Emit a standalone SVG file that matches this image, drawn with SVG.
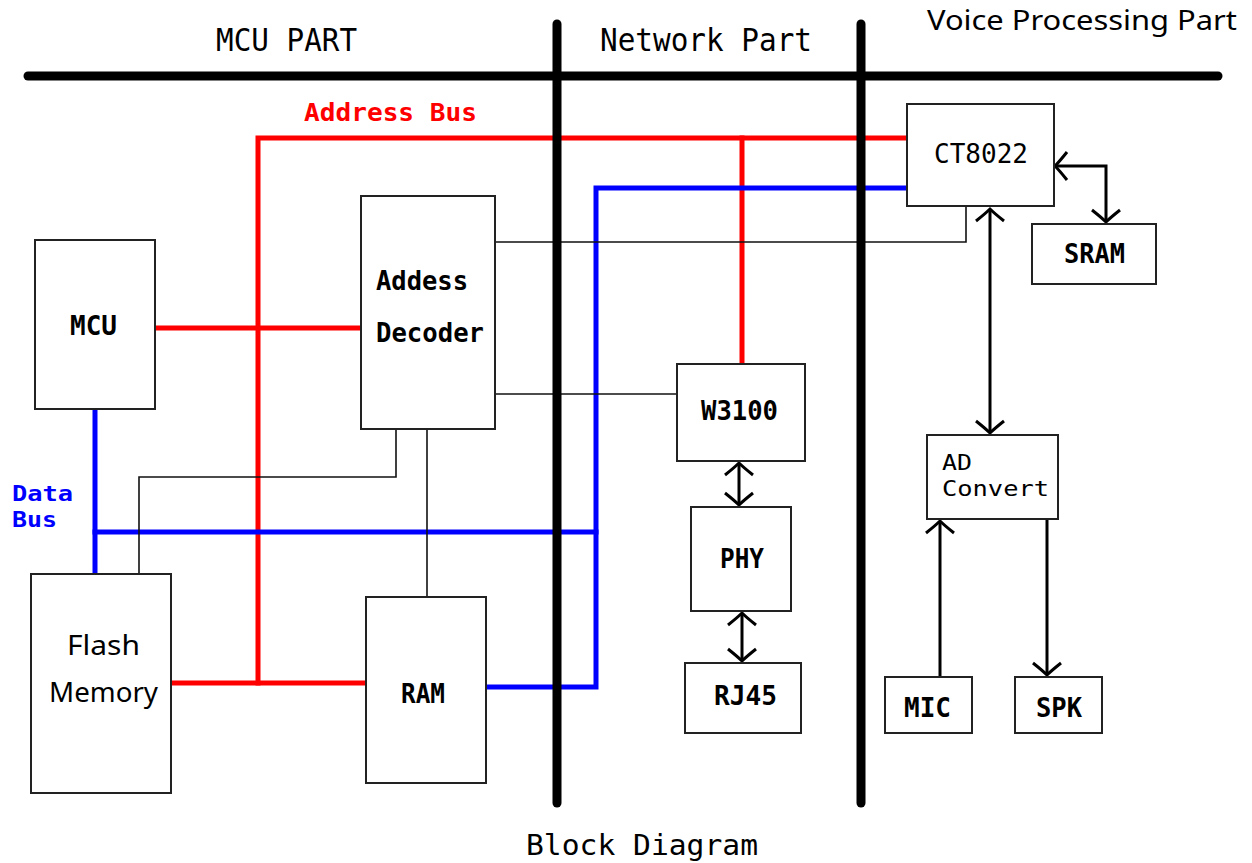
<svg xmlns="http://www.w3.org/2000/svg" width="1252" height="863" viewBox="0 0 1252 863">
<defs>
<style>
.box{fill:#fff;stroke:#222;stroke-width:2}
.lbl{font-family:"DejaVu Sans Mono","Liberation Mono",monospace;font-weight:bold;font-size:26px;fill:#000}
.hdr{font-family:"DejaVu Sans Mono","Liberation Mono",monospace;font-size:32px;fill:#000}
.sans{font-family:"Noto Sans","Liberation Sans",sans-serif;font-size:28px;fill:#000}
.div{stroke:#000;stroke-width:9;stroke-linecap:round;fill:none}
.addr{stroke:#f00;stroke-width:5;fill:none;stroke-linecap:square}
.data{stroke:#00f;stroke-width:5;fill:none;stroke-linecap:square}
.thin{stroke:#111;stroke-width:1.6;fill:none}
.arr{stroke:#000;stroke-width:3;fill:none}
.both{marker-start:url(#ah);marker-end:url(#ah)}
.one{marker-end:url(#ah)}
</style>
<marker id="ah" markerUnits="userSpaceOnUse" viewBox="-16 -18 18 36" refX="0" refY="0" markerWidth="18" markerHeight="36" orient="auto-start-reverse" overflow="visible">
<path d="M-12,-14 Q-4,-4 0,0 Q-4,4 -12,14" fill="none" stroke="#000" stroke-width="3"/>
</marker>
</defs>
<rect width="1252" height="863" fill="#fff"/>

<g id="connectors">
<path class="addr" d="M258,683 V138 H906"/>
<path class="addr" d="M742,138 V362"/>
<path class="addr" d="M155,328 H361"/>
<path class="addr" d="M172,683 H366"/>
<path class="data" d="M95,410 V573"/>
<path class="data" d="M95,532 H596"/>
<path class="data" d="M488,687 H596 V188 H906"/>
<path class="thin" d="M966,207 V242 H495"/>
<path class="thin" d="M495,394 H677"/>
<path class="thin" d="M396,429 V477 H139 V573"/>
<path class="thin" d="M427,429 V597"/>
<path class="arr both" d="M739,463 V505"/>
<path class="arr both" d="M742,613 V661"/>
<path class="arr both" d="M1055,166 H1106 V222"/>
<path class="arr both" d="M990,209 V433"/>
<path class="arr one" d="M940,677 V521"/>
<path class="arr one" d="M1047,519 V675"/>
</g>

<g id="partitions">
<path class="div" d="M28,76 H1218"/>
<path class="div" d="M557,24 V803"/>
<path class="div" d="M861,24 V803"/>
</g>

<g id="headers">
<text class="hdr" x="216" y="51" textLength="141" lengthAdjust="spacingAndGlyphs">MCU PART</text>
<text class="hdr" x="600" y="51" textLength="212" lengthAdjust="spacingAndGlyphs">Network Part</text>
<text class="sans" x="927" y="30" textLength="310" lengthAdjust="spacingAndGlyphs">Voice Processing Part</text>
<text class="hdr" x="526" y="855" style="font-size:29px" textLength="232" lengthAdjust="spacingAndGlyphs">Block Diagram</text>
<text class="lbl" x="304" y="121" style="fill:#f00;font-size:24px" textLength="173" lengthAdjust="spacingAndGlyphs">Address Bus</text>
<text class="lbl" x="12" y="501" style="fill:#00f;font-size:21px" textLength="61" lengthAdjust="spacingAndGlyphs">Data</text>
<text class="lbl" x="12" y="527" style="fill:#00f;font-size:21px" textLength="45" lengthAdjust="spacingAndGlyphs">Bus</text>
</g>

<g id="mcu">
<rect class="box" x="35" y="240" width="120" height="169"/>
<text class="lbl" x="70" y="335" textLength="47" lengthAdjust="spacingAndGlyphs">MCU</text>
</g>
<g id="address-decoder">
<rect class="box" x="361" y="196" width="134" height="233"/>
<text class="lbl" x="376" y="290" textLength="92" lengthAdjust="spacingAndGlyphs">Addess</text>
<text class="lbl" x="376" y="342" textLength="108" lengthAdjust="spacingAndGlyphs">Decoder</text>
</g>
<g id="flash-memory">
<rect class="box" x="31" y="574" width="140" height="219"/>
<text class="sans" x="67" y="655" textLength="73" lengthAdjust="spacingAndGlyphs">Flash</text>
<text class="sans" x="49" y="702" textLength="109" lengthAdjust="spacingAndGlyphs">Memory</text>
</g>
<g id="ram">
<rect class="box" x="366" y="597" width="120" height="186"/>
<text class="lbl" x="401" y="703" textLength="44" lengthAdjust="spacingAndGlyphs">RAM</text>
</g>
<g id="w3100">
<rect class="box" x="677" y="364" width="128" height="97"/>
<text class="lbl" x="701" y="420" textLength="77" lengthAdjust="spacingAndGlyphs">W3100</text>
</g>
<g id="phy">
<rect class="box" x="691" y="507" width="100" height="104"/>
<text class="lbl" x="720" y="568" textLength="44" lengthAdjust="spacingAndGlyphs">PHY</text>
</g>
<g id="rj45">
<rect class="box" x="685" y="663" width="116" height="70"/>
<text class="lbl" x="714" y="705" textLength="63" lengthAdjust="spacingAndGlyphs">RJ45</text>
</g>
<g id="ct8022">
<rect class="box" x="907" y="104" width="147" height="102"/>
<text class="lbl" x="934" y="163" style="font-weight:normal" textLength="94" lengthAdjust="spacingAndGlyphs">CT8022</text>
</g>
<g id="sram">
<rect class="box" x="1032" y="224" width="124" height="60"/>
<text class="lbl" x="1064" y="263" textLength="61" lengthAdjust="spacingAndGlyphs">SRAM</text>
</g>
<g id="ad-convert">
<rect class="box" x="927" y="435" width="131" height="84"/>
<text class="lbl" x="942" y="470" style="font-weight:normal;font-size:22px" textLength="30" lengthAdjust="spacingAndGlyphs">AD</text>
<text class="lbl" x="942" y="496" style="font-weight:normal;font-size:22px" textLength="107" lengthAdjust="spacingAndGlyphs">Convert</text>
</g>
<g id="mic">
<rect class="box" x="885" y="677" width="87" height="56"/>
<text class="lbl" x="904" y="717" textLength="47" lengthAdjust="spacingAndGlyphs">MIC</text>
</g>
<g id="spk">
<rect class="box" x="1015" y="677" width="87" height="56"/>
<text class="lbl" x="1036" y="717" textLength="46" lengthAdjust="spacingAndGlyphs">SPK</text>
</g>
</svg>
